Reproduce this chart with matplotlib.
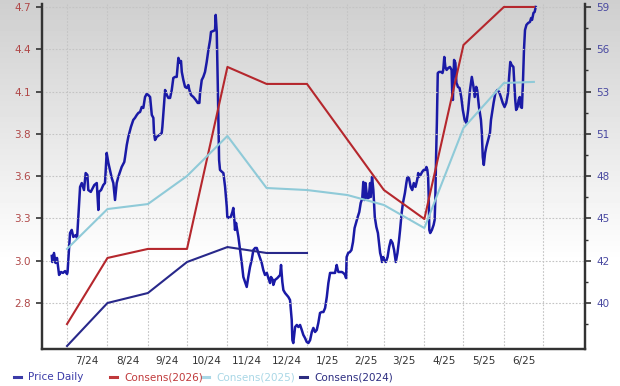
import matplotlib
matplotlib.use("Agg")
import matplotlib.pyplot as plt
from matplotlib.lines import Line2D
from matplotlib.ticker import FixedLocator, NullFormatter
import matplotlib.dates as mdates
import numpy as np
import pandas as pd

# price: days after 2024-07-01, closing price ($)
price_day = [
    -11.7, -11.3, -10.0, -8.8, -7.7, -6.1, -4.6, -3.1, -1.5, 0.0, 0.4, 2.3, 3.6, 4.8, 6.7, 7.7,
    10.0, 11.3, 13.0, 14.3, 15.6, 16.3, 18.2, 19.7, 20.9, 22.8, 24.0, 24.5, 26.1, 27.8, 29.1,
    30.4, 31.7, 34.3, 35.5, 36.8, 38.1, 39.3, 41.9, 43.9, 44.5, 45.8, 47.0, 49.0, 50.8, 52.1,
    53.5, 54.7, 56.0, 57.3, 58.5, 59.8, 61.1, 62.3, 63.7, 65.0, 66.2, 66.7, 67.5, 68.8, 70.8,
    72.6, 73.1, 75.2, 76.5, 77.7, 79.0, 80.3, 81.5, 82.8, 84.1, 85.4, 86.7, 87.4, 88.0, 89.2,
    90.5, 91.8, 93.0, 93.8, 95.1, 96.9, 98.7, 100.2, 101.5, 102.0, 103.3, 104.5, 105.8, 107.1,
    108.4, 109.7, 110.4, 112.2, 113.5, 114.0, 114.8, 115.6, 116.6, 117.3, 118.9, 119.9, 121.2,
    122.5, 122.9, 123.7, 125.5, 126.8, 127.5, 128.3, 128.8, 129.6, 130.1, 131.4, 132.7, 134.0,
    135.2, 136.5, 137.8, 139.0, 140.3, 141.6, 142.9, 144.2, 145.5, 146.7, 148.0, 149.3, 150.5,
    151.8, 153.2, 154.4, 155.7, 156.4, 157.8, 158.2, 159.5, 161.3, 163.4, 164.1, 165.1, 165.9,
    167.2, 168.5, 169.7, 171.0, 172.3, 172.8, 173.5, 174.9, 176.2, 177.4, 178.7, 180.0, 181.2,
    182.5, 183.8, 185.1, 186.4, 187.7, 188.9, 190.2, 191.5, 192.7, 194.0, 195.3, 196.6, 197.9,
    199.2, 200.4, 201.7, 203.0, 204.2, 205.5, 206.8, 207.6, 208.1, 209.4, 210.7, 211.9, 213.2,
    214.0, 214.4, 215.6, 216.9, 218.1, 219.3, 220.5, 221.6, 222.9, 224.1, 225.2, 226.0, 226.4,
    227.2, 227.6, 228.1, 228.9, 230.1, 231.3, 232.4, 232.9, 233.9, 234.9, 236.0, 237.2, 238.4,
    239.6, 240.1, 240.9, 241.5, 242.5, 243.2, 244.5, 245.8, 247.0, 248.3, 249.6, 250.8, 252.1,
    253.4, 254.6, 255.4, 256.6, 257.6, 259.1, 260.2, 261.0, 262.2, 263.5, 264.7, 265.9, 267.2,
    268.5, 269.3, 269.7, 271.1, 272.3, 273.5, 274.8, 275.6, 276.3, 276.9, 277.4, 277.8, 278.5,
    279.8, 281.1, 281.9, 282.4, 283.0, 283.6, 284.3, 285.3, 286.9, 287.9, 288.5, 289.3, 290.1,
    291.1, 292.3, 293.6, 294.9, 295.3, 295.9, 296.8, 297.8, 298.6, 299.3, 299.7, 301.0, 302.3,
    303.5, 304.9, 306.3, 307.6, 309.0, 310.4, 311.7, 312.6, 313.8, 314.5, 315.9, 317.4, 318.1,
    318.8, 319.6, 320.6, 321.5, 322.9, 324.3, 325.1, 326.3, 327.1, 328.5, 330.0, 331.4, 332.7,
    334.1, 335.5, 336.8, 338.2, 339.0, 339.9, 340.9, 342.3, 343.0, 343.7, 344.4, 345.5, 346.3,
    347.2, 347.9, 348.8, 349.6, 350.4, 351.2, 352.3, 353.6, 355.0, 355.9, 356.6, 357.7, 358.6,
    359.4,
]
price_val = [
    43.02, 42.63, 43.21, 42.57, 42.89, 41.80, 41.99, 41.93, 42.05, 41.86, 41.99, 44.49, 44.69, 44.24, 44.36, 44.17,
    47.45, 47.70, 47.25, 48.34, 48.22, 47.25, 47.13, 47.38, 47.57, 47.70, 45.97, 47.13, 47.25, 47.57, 47.70,
    49.63, 48.99, 48.02, 47.70, 46.61, 47.70, 48.09, 48.73, 49.05, 49.37, 50.14, 50.66, 51.30, 51.75, 51.88,
    52.07, 52.20, 52.26, 52.58, 52.52, 53.22, 53.42, 53.35, 53.22, 52.07, 51.88, 50.91, 50.46, 50.66, 50.78,
    50.91, 51.30, 53.67, 53.35, 53.16, 53.16, 53.67, 54.44, 54.51, 54.51, 55.73, 55.41, 55.53, 54.83, 54.31,
    53.87, 53.80, 53.99, 53.67, 53.35, 53.22, 53.03, 52.84, 52.84, 53.48, 54.31, 54.51, 54.83, 55.47,
    56.24, 56.88, 57.40, 57.46, 57.52, 58.49, 57.40, 53.99, 49.18, 48.54, 48.41, 48.34, 47.45,
    46.16, 45.52, 45.46, 45.52, 45.84, 46.10, 45.33, 44.69, 45.14, 44.88, 44.24, 43.40, 42.57,
    41.67, 41.35, 41.03, 41.67, 42.31, 42.76, 43.40, 43.53, 43.53, 43.21, 42.89, 42.57, 42.12,
    41.80, 41.93, 41.60, 41.28, 41.67, 41.48, 41.16, 41.48, 41.60, 41.80, 42.44, 41.35, 40.83,
    40.64, 40.51, 40.39, 40.19, 38.91, 37.62, 37.43, 38.46, 38.59, 38.46, 38.59, 38.27, 37.95,
    37.75, 37.50, 37.43, 37.62, 38.14, 38.40, 38.14, 38.27, 38.72, 39.36, 39.42, 39.42, 39.68,
    40.39, 41.28, 41.93, 41.93, 41.93, 41.93, 42.44, 42.12, 41.99, 41.99, 41.99, 41.93, 41.80,
    41.60, 42.95, 43.21, 43.27, 43.40, 43.92, 44.81, 45.14, 45.52, 45.84, 46.42, 46.61, 46.74,
    47.77, 46.80, 46.61, 47.70, 46.74, 46.74, 47.70, 46.80, 48.09, 47.25, 45.52, 44.88, 44.49,
    43.59, 43.21, 42.95, 42.63, 42.95, 42.76, 42.63, 42.95, 43.59, 44.04, 43.85, 43.40, 42.63,
    43.21, 44.04, 44.69, 45.78, 46.42, 47.06, 47.70, 48.09, 48.02, 47.45, 47.25, 47.70, 47.45,
    47.90, 48.34, 48.09, 48.22, 48.41, 48.54, 48.54, 48.73, 48.54, 48.09, 46.61, 44.69, 44.49,
    44.69, 45.01, 45.33, 46.61, 49.37, 51.55, 54.76, 54.83, 54.83, 54.76, 54.96, 55.79, 55.15,
    54.96, 55.08, 55.15, 54.96, 53.67, 53.03, 55.60, 55.41, 54.12, 53.99, 53.87, 53.80, 53.22,
    52.39, 51.75, 51.55, 52.39, 53.67, 54.51, 53.87, 53.22, 53.87, 53.67, 52.58, 51.75, 50.91,
    49.37, 48.86, 49.63, 50.01, 50.46, 50.91, 51.75, 52.39, 52.84, 53.48, 53.67, 53.54, 53.22,
    52.84, 52.58, 52.84, 53.48, 54.51, 55.47, 55.28, 55.15, 54.12, 53.03, 52.39, 52.58, 53.03,
    53.22, 52.58, 52.52, 54.12, 56.24, 57.52, 57.85, 57.97, 58.04, 58.29, 58.17, 58.62, 58.68,
    59.00,
]

# consensus EPS estimates (left axis)
cons26_dates = ["2024-07-01", "2024-08-01", "2024-09-01", "2024-10-01", "2024-11-01", "2024-12-01",
                "2025-01-01", "2025-03-01", "2025-04-01", "2025-05-01", "2025-06-01", "2025-06-24"]
cons26_vals = [2.665, 3.089, 3.147, 3.147, 4.315, 4.206, 4.206, 3.525, 3.339, 4.456, 4.700, 4.700]

cons25_dates = ["2024-07-01", "2024-08-01", "2024-09-01", "2024-10-01", "2024-11-01", "2024-12-01",
                "2025-01-01", "2025-02-01", "2025-03-01", "2025-04-01", "2025-05-01", "2025-06-01",
                "2025-06-24"]
cons25_vals = [3.147, 3.403, 3.435, 3.615, 3.872, 3.538, 3.525, 3.493, 3.429, 3.281, 3.923, 4.212, 4.219]

cons24_dates = ["2024-07-01", "2024-08-01", "2024-09-01", "2024-10-01", "2024-11-01", "2024-12-01",
                "2025-01-01"]
cons24_vals = [2.524, 2.800, 2.864, 3.063, 3.159, 3.121, 3.121]

eps_labels = ["2.8", "3.0", "3.3", "3.6", "3.8", "4.1", "4.4", "4.7"]
price_labels = ["40", "42", "45", "48", "51", "53", "56", "59"]
month_labels = ["7/24", "8/24", "9/24", "10/24", "11/24", "12/24",
                "1/25", "2/25", "3/25", "4/25", "5/25", "6/25"]

legend_names = ["Price Daily", "Consens(2026)", "Consens(2025)", "Consens(2024)"]
legend_colors = ["#3b3ba8", "#c0393b", "#a9d7e6", "#2c2c80"]

c_price = "#1a1aa6"
c_26 = "#b5272d"
c_25 = "#8fcad8"
c_24 = "#28288a"

base = pd.Timestamp("2024-07-01")
price_dates = base + pd.to_timedelta(price_day, unit="D")
month_starts = pd.date_range("2024-07-01", periods=13, freq="MS")
month_mids = month_starts[:-1] + (month_starts[1:] - month_starts[:-1]) / 2

plt.rcParams["font.family"] = "DejaVu Sans"
fig = plt.figure(figsize=(6.2, 3.86), dpi=100)

# grey-to-white background
bg = fig.add_axes([0, 0, 1, 1], zorder=-10)
grad = np.linspace(0, 1, 386)
shade = np.clip(0.81 + 0.19 * grad / 0.68, 0, 1)
bg.imshow(np.repeat(shade[:, None], 2, axis=1), cmap="gray", vmin=0, vmax=1,
          aspect="auto", extent=[0, 1, 0, 1], origin="upper")
bg.axis("off")

ax = fig.add_axes([42 / 620, 1 - 349 / 386, (585 - 42) / 620, (349 - 4) / 386])
ax.patch.set_alpha(0)
ax.plot(price_dates, price_val, color=c_price, lw=1.8, zorder=2)
ax.set_ylim(37.047, 59.19)

ax2 = ax.twinx()
ax2.plot(pd.to_datetime(cons26_dates), cons26_vals, color=c_26, lw=1.5)
ax2.plot(pd.to_datetime(cons25_dates), cons25_vals, color=c_25, lw=1.5)
ax2.plot(pd.to_datetime(cons24_dates), cons24_vals, color=c_24, lw=1.5)
ax2.set_ylim(2.5047, 4.719)

# price scale on the right, EPS scale on the left
ax.yaxis.tick_right()
ax.yaxis.set_major_locator(FixedLocator([40 + i * 19 / 7 for i in range(8)]))
ax.set_yticklabels(price_labels)
ax.yaxis.set_minor_locator(FixedLocator([40 + (i + 0.5) * 19 / 7 for i in range(-1, 8)]))
ax.tick_params(axis="y", which="major", colors="#333333", labelcolor="#4848a0",
               labelsize=7.5, length=4, width=1.2, pad=4,
               left=False, labelleft=False, right=True, labelright=True)
ax.tick_params(axis="y", which="minor", colors="#333333", length=2.5, width=1,
               left=False, right=True)

ax2.yaxis.tick_left()
ax2.yaxis.set_major_locator(FixedLocator([2.8 + i * 1.9 / 7 for i in range(8)]))
ax2.set_yticklabels(eps_labels)
ax2.tick_params(axis="y", colors="#333333", labelcolor="#b04848",
                labelsize=7.5, length=4, width=1.2, pad=4,
                left=True, labelleft=True, right=False, labelright=False)

ax.set_xlim(base + pd.Timedelta(days=-19.2), base + pd.Timedelta(days=397.2))
ax.xaxis.set_major_locator(FixedLocator(mdates.date2num(month_starts)))
ax.xaxis.set_major_formatter(NullFormatter())
ax.xaxis.set_minor_locator(FixedLocator(mdates.date2num(month_mids)))
ax.set_xticks(mdates.date2num(month_mids), month_labels, minor=True)
ax.tick_params(axis="x", which="both", length=0, labelsize=7.5, labelcolor="#333333", pad=5)

ax.grid(True, axis="x", which="major", color="#c4c4c4", lw=0.8, ls=(0, (1.5, 1.5)))
ax2.grid(True, axis="y", color="#c4c4c4", lw=0.8, ls=(0, (1.5, 1.5)))
ax.set_axisbelow(True)

for a in (ax, ax2):
    a.spines["top"].set_visible(False)
    for s in ("left", "right", "bottom"):
        a.spines[s].set_color("#333333")
        a.spines[s].set_linewidth(1.6)

# legend drawn in figure space
leg_x = [14, 110, 202, 300]
for x0, name, col in zip(leg_x, legend_names, legend_colors):
    fig.add_artist(Line2D([x0 / 620, (x0 + 7) / 620], [1 - 377 / 386] * 2, color=col, lw=2.2,
                          transform=fig.transFigure))
    fig.text((x0 + 14) / 620, 1 - 377 / 386, name, color=col, fontsize=7.5, va="center")

fig.savefig("out.png", dpi=100)
